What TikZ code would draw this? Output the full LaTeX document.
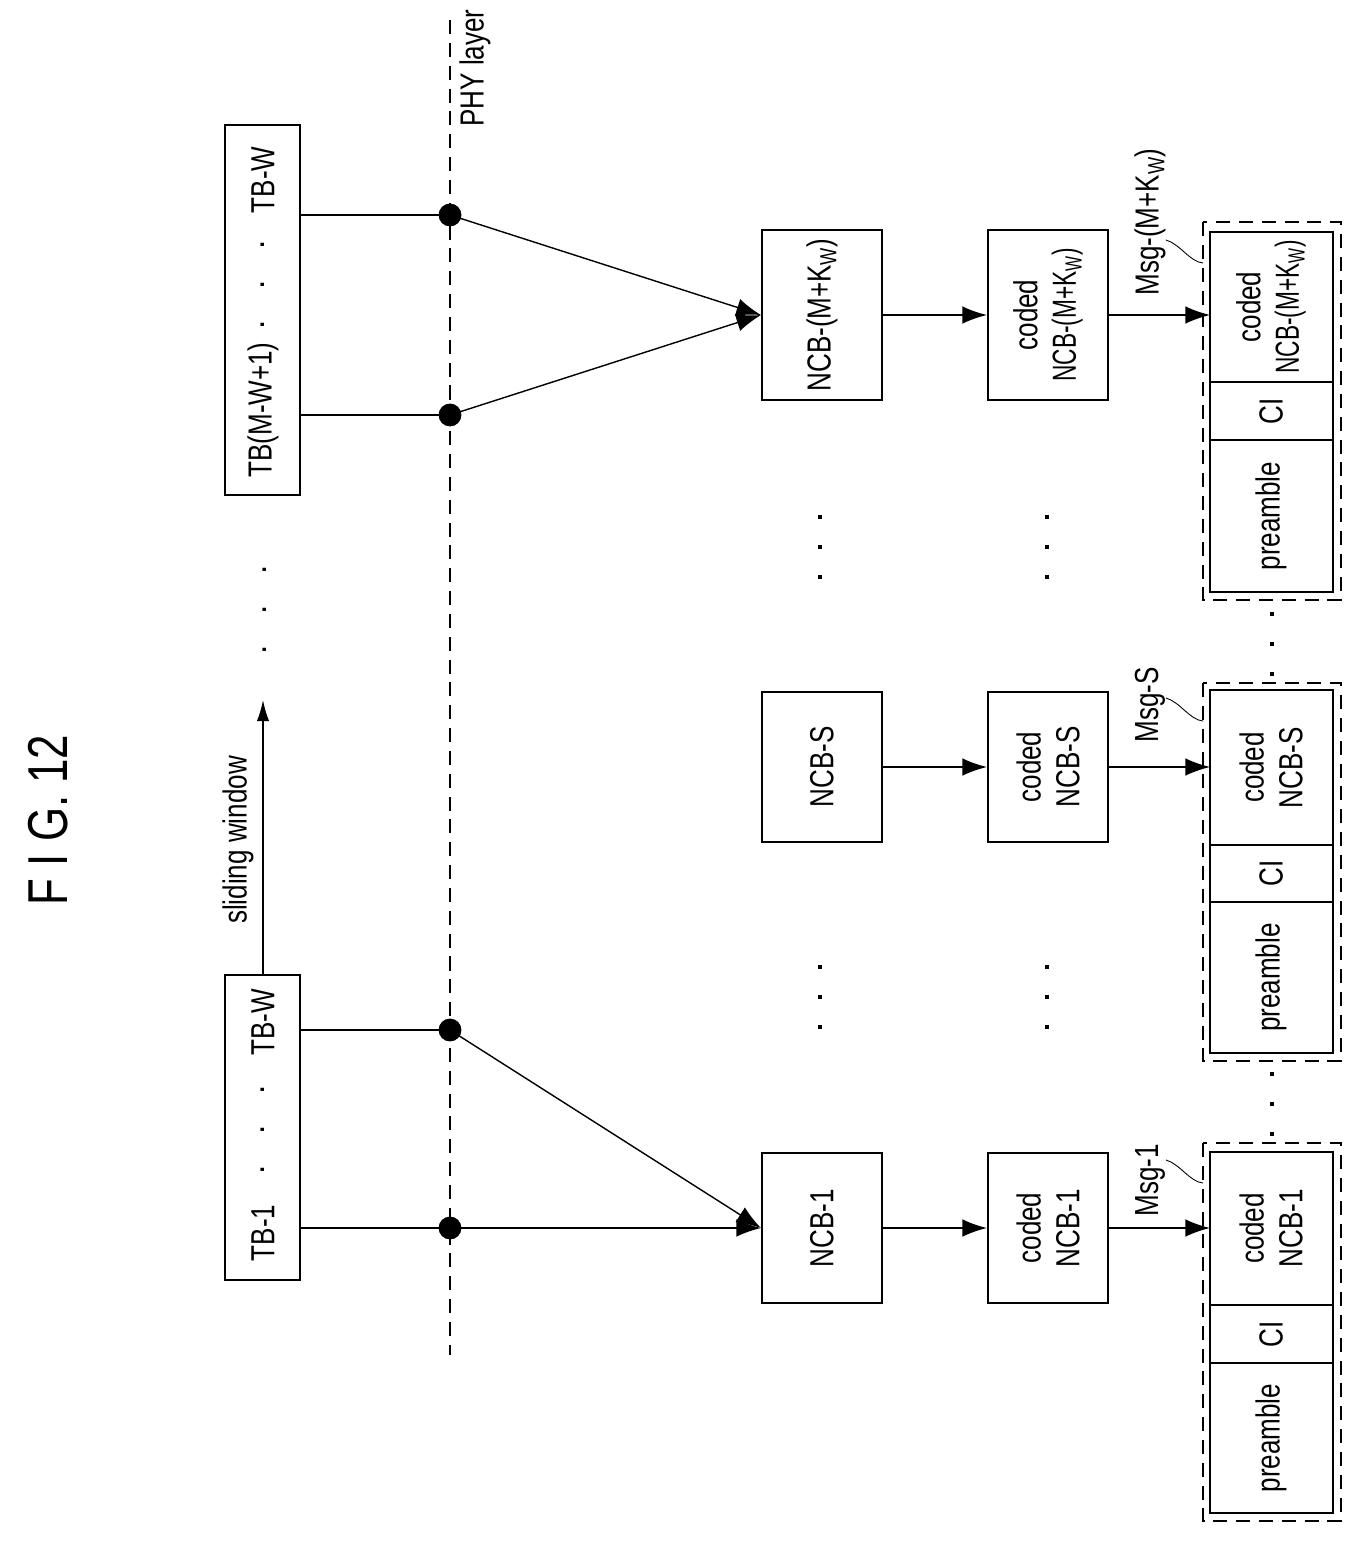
\documentclass[tikz,border=0pt]{standalone}
\usepackage{fontspec}
\setmainfont{Liberation Sans}
\usetikzlibrary{arrows.meta}
\newcommand{\cz}[1]{\scalebox{0.78}[1]{#1}}
\newcommand{\czz}[1]{\scalebox{0.68}[1]{#1}}
\begin{document}
\begin{tikzpicture}[x=0.02cm,y=-0.02cm,
  lbl/.style={rotate=90,font=\fontsize{19}{22}\selectfont,align=center,inner sep=0},
  bx/.style={draw,line width=1.2pt},
  arr/.style={-{Latex[length=14pt,width=10pt]},line width=0.8pt},
  ln/.style={line width=0.8pt},
  dot/.style={circle,fill,inner sep=0,minimum size=13pt},
  vd/.style={line width=2.2pt,dash pattern=on 2.5pt off 14.5pt}]
\useasboundingbox (0,0) rectangle (1362,1543);
\node[lbl,font=\fontsize{32}{36}\selectfont] (title) at (48,820) {\cz{F I G. 12}};
% TB boxes
\draw[bx] (225,975) rectangle (300,1280);
\node[lbl] (tb1) at (263,1233) {\cz{TB-1}};
\node[lbl] (tbd1) at (263,1130) {. \ \ . \ \ .};
\node[lbl] (tbw1) at (263,1022) {\cz{TB-W}};
\draw[bx] (225,125) rectangle (300,495);
\node[lbl] (tbm) at (263,410) {\cz{TB(M-W+1)}};
\node[lbl] (tbd2) at (263,285) {. \ \ . \ \ .};
\node[lbl] (tbw2) at (263,180) {\cz{TB-W}};
\coordinate (sw0) at (263,975); \coordinate (sw1) at (263,700);
\draw[-{Latex[length=12pt,width=7pt]},ln] (sw0) -- (sw1);
\node[lbl] (swl) at (238,840) {\cz{sliding window}};
\node[lbl] (mid) at (265,610) {. \ \ . \ \ .};
% PHY
\coordinate (p0) at (450,20); \coordinate (p1) at (450,1355);
\draw[ln,dash pattern=on 8pt off 5pt] (p0) -- (p1);
\node[lbl] (phy) at (475,68) {\cz{PHY layer}};
\node[dot] (d1) at (450,215) {}; \node[dot] (d2) at (450,415) {};
\node[dot] (d3) at (450,1030) {}; \node[dot] (d4) at (450,1228) {};
\coordinate (s1) at (300,215); \coordinate (s2) at (300,415);
\coordinate (s3) at (300,1030); \coordinate (s4) at (300,1228);
\draw[ln] (s1)--(d1.center); \draw[ln] (s2)--(d2.center);
\draw[ln] (s3)--(d3.center); \draw[ln] (s4)--(d4.center);
% NCB
\node[bx,minimum width=2.4cm,minimum height=3.4cm] (n3) at (822,315) {};
\node[lbl] at (n3) {\cz{NCB-(M+K$_{\mathrm W}$)}};
\node[bx,minimum width=2.4cm,minimum height=3cm] (n2) at (822,767) {};
\node[lbl] at (n2) {\cz{NCB-S}};
\node[bx,minimum width=2.4cm,minimum height=3cm] (n1) at (822,1228) {};
\node[lbl] at (n1) {\cz{NCB-1}};
\draw[arr] (d1.center) -- (n3.west); \draw[arr] (d2.center) -- (n3.west);
\draw[arr] (d3.center) -- (n1.west); \draw[arr] (d4.center) -- (n1.west);
\node[bx,minimum width=2.4cm,minimum height=3.4cm] (c3) at (1048,315) {};
\node[lbl] at (c3) {\cz{coded}\\\czz{NCB-(M+K$_{\mathrm W}$)}};
\node[bx,minimum width=2.4cm,minimum height=3cm] (c2) at (1048,767) {};
\node[lbl] at (c2) {\cz{coded}\\\cz{NCB-S}};
\node[bx,minimum width=2.4cm,minimum height=3cm] (c1) at (1048,1228) {};
\node[lbl] at (c1) {\cz{coded}\\\cz{NCB-1}};
\draw[arr] (n3) -- (c3); \draw[arr] (n2) -- (c2); \draw[arr] (n1) -- (c1);
% dots
\foreach \x in {820,1047}{\draw[vd] (\x,515) -- (\x,590); \draw[vd] (\x,965) -- (\x,1040);}
\draw[vd] (1272,612) -- (1272,680); \draw[vd] (1272,1072) -- (1272,1140);
% messages
\foreach \t/\a/\b/\c/\d/\e/\s/\m/\ly in {
  3/222/232/382/440/592/{\czz{NCB-(M+K$_{\mathrm W}$)}}/{\cz{Msg-(M+K$_{\mathrm W}$)}}/222,
  2/683/690/845/902/1053/{\cz{NCB-S}}/{\cz{Msg-S}}/705,
  1/1143/1152/1305/1363/1513/{\cz{NCB-1}}/{\cz{Msg-1}}/1180}{
  \draw[ln,dash pattern=on 8pt off 5pt] (1203,\a) rectangle (1341,\e+8);
  \draw[bx] (1210,\b) rectangle (1333,\e);
  \draw[ln] (1210,\c) -- (1333,\c); \draw[ln] (1210,\d) -- (1333,\d);
  \node[lbl] at (1271,{(\b+\c)/2}) {\cz{coded}\\\s};
  \node[lbl] at (1271,{(\c+\d)/2}) {\cz{CI}};
  \node[lbl] at (1271,{(\d+\e)/2}) {\cz{preamble}};
  \node[lbl] (m\t) at (1150,\ly) {\m};
  \draw[line width=0.5pt] (1166,{\b+8}) .. controls (1180,{\b+12}) and (1190,{\b+30}) .. (1203,{\b+31});
}
\coordinate (e3) at (1210,315); \coordinate (e2) at (1210,767); \coordinate (e1) at (1210,1228);
\draw[arr] (c3) -- (e3); \draw[arr] (c2) -- (e2); \draw[arr] (c1) -- (e1);
\end{tikzpicture}
\end{document}
